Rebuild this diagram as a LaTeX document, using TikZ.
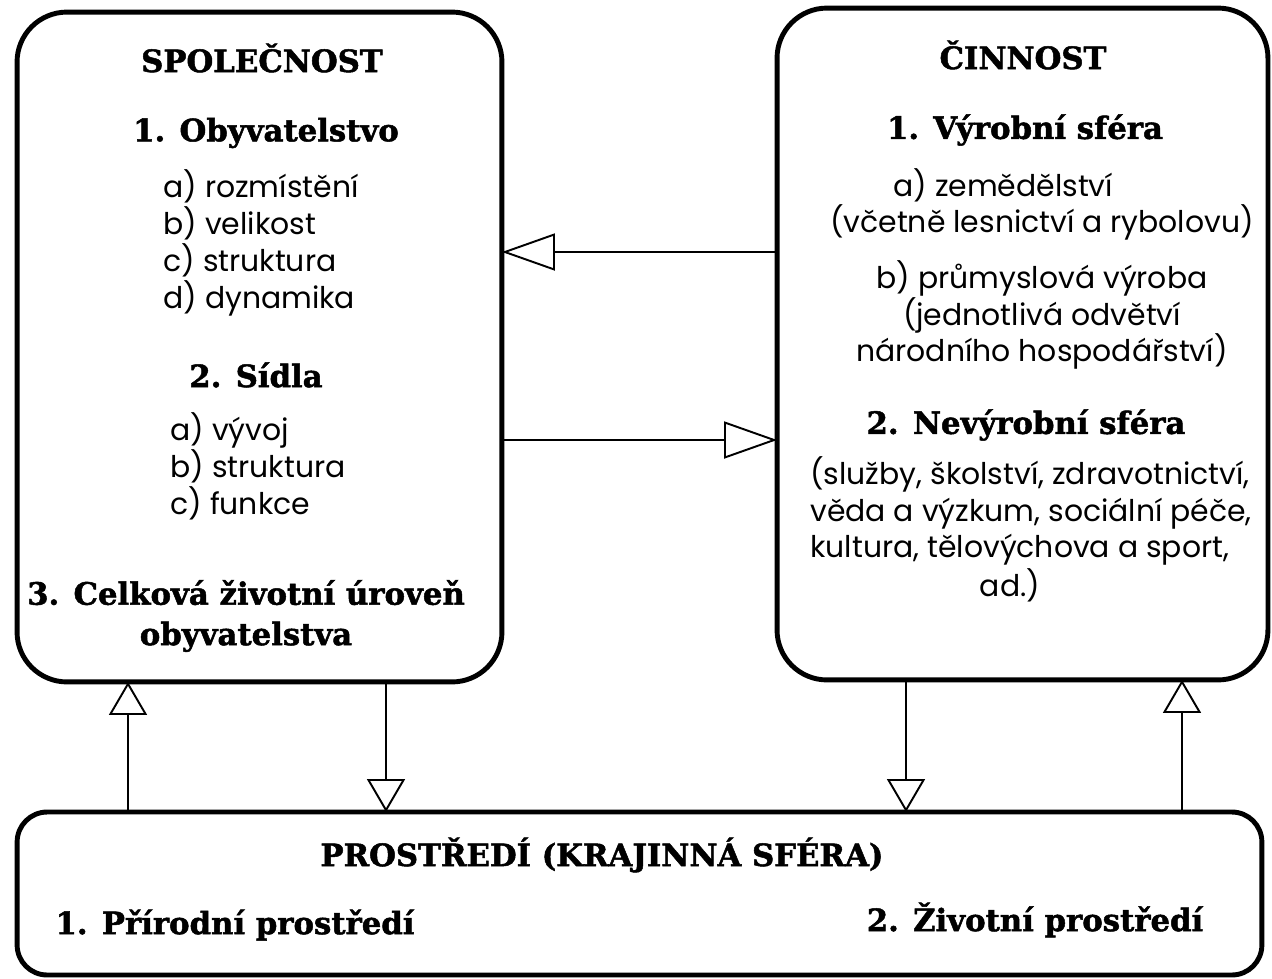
\documentclass[tikz,border=0pt]{standalone}
\usepackage{fontspec}
\setmainfont{Poppins}
\newfontfamily\headfont{DejaVu Serif Bold}[FakeBold=1.6]
\usetikzlibrary{arrows.meta}

\begin{document}
\begin{tikzpicture}[x=0.02cm,y=-0.02cm,
  box/.style={draw,line width=2.8pt,rounded corners=#1,inner sep=0pt,outer sep=0pt},
  box/.default=1cm,
  head/.style={font=\headfont\fontsize{17.5}{21}\selectfont,inner sep=0pt},
  txt/.style={font=\fontsize{17}{21}\selectfont,inner sep=0pt},
  harr/.style={line width=1.1pt,-{Triangle[open,length=1.06cm,width=0.74cm]}},
  varr/.style={line width=1.1pt,-{Triangle[open,length=0.66cm,width=0.76cm]}}
  ]
\useasboundingbox (0,0) rectangle (1272,978);
% the three boxes
\node[box,minimum width=9.7cm,minimum height=13.4cm] (spol) at (259.5,347) {};
\node[box,minimum width=9.82cm,minimum height=13.44cm] (cin) at (1022.5,344) {};
\node[box=0.6cm,minimum width=24.9cm,minimum height=3.26cm] (prost) at (639.5,893.5) {};
% spolecnost
\node[head] (spolT) at (262,58) {SPOLEČNOST};
\node[head] (oby) at (266,133) {1. Obyvatelstvo};
\node[txt,anchor=west,align=left] (obyL) at (163,243) {a) rozmístění\\b) velikost\\c) struktura\\d) dynamika};
\node[head] (sid) at (256,375) {2. Sídla};
\node[txt,anchor=west,align=left] (sidL) at (170,466) {a) vývoj\\b) struktura\\c) funkce};
\node[head,align=center] (urov) at (246,616) {3. Celková životní úroveň\\[2pt]obyvatelstva};
% cinnost
\node[head] (cinT) at (1023,55) {ČINNOST};
\node[head] (vyr) at (1025,130) {1. Výrobní sféra};
\node[txt,anchor=west] (zem) at (893,185) {a) zemědělství};
\node[txt] (zem2) at (1042,222) {(včetně lesnictví a rybolovu)};
\node[txt,align=center] (prum) at (1042,315) {b) průmyslová výroba\\(jednotlivá odvětví\\národního hospodářství)};
\node[head] (nevyr) at (1026,425) {2. Nevýrobní sféra};
\node[txt,anchor=west,align=left] (nevL) at (810,511) {(služby, školství, zdravotnictví,\\věda a výzkum, sociální péče,\\kultura, tělovýchova a sport,};
\node[txt] (ad) at (1010,585) {ad.)};
% prostredi
\node[head] (prostT) at (602,855) {PROSTŘEDÍ (KRAJINNÁ SFÉRA)};
\node[head] (prir) at (235,925) {1. Přírodní prostředí};
\node[head] (ziv) at (1035,920) {2. Životní prostředí};
% links
\draw[harr] (cin.west |- 0,252) -- (spol.east |- 0,252);
\draw[harr] (spol.east |- 0,440) -- (cin.west |- 0,440);
\draw[varr] (prost.north -| 128,0) -- (spol.south -| 128,0);
\draw[varr] (spol.south -| 386,0) -- (prost.north -| 386,0);
\draw[varr] (cin.south -| 906,0) -- (prost.north -| 906,0);
\draw[varr] (prost.north -| 1182,0) -- (cin.south -| 1182,0);
\end{tikzpicture}
\end{document}
